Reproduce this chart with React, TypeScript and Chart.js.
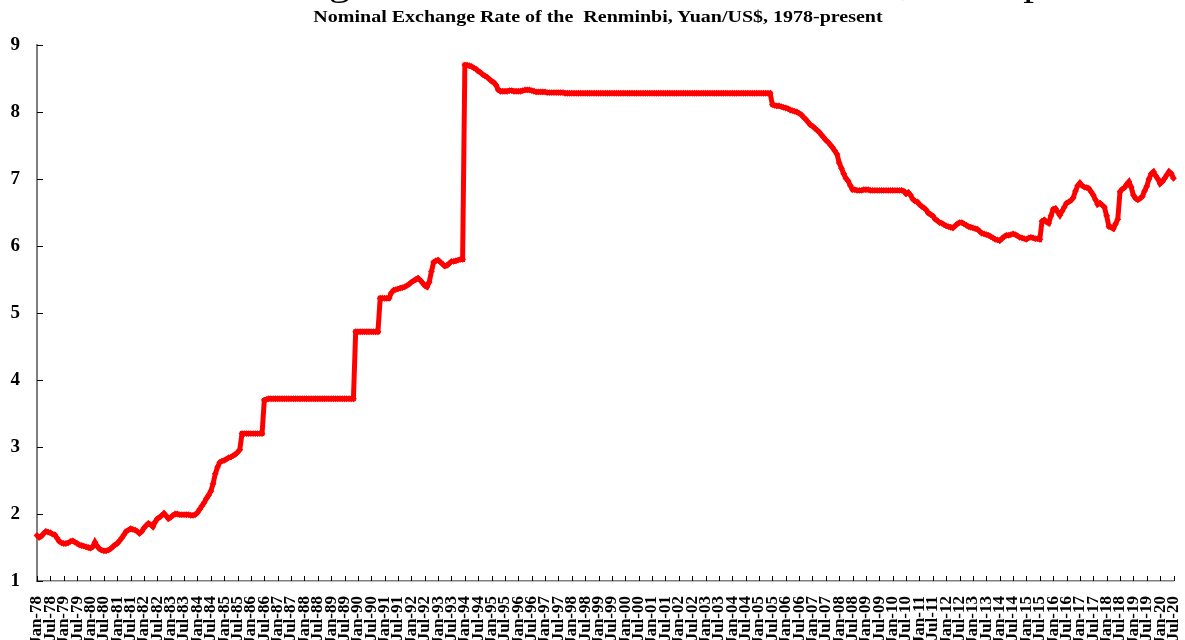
import React, { useEffect, useRef } from 'react';
import { Chart, registerables } from 'chart.js';

Chart.register(...registerables);

const FONT = '"Liberation Serif", "Times New Roman", Times, serif';

const bigTitle = 'Nominal Exchange Rate of the Chinese Renminbi, 1978-present';
const subtitle = 'Nominal Exchange Rate of the\u00a0 Renminbi, Yuan/US$, 1978-present';

const monthNames = ['Jan', 'Feb', 'Mar', 'Apr', 'May', 'Jun', 'Jul', 'Aug', 'Sep', 'Oct', 'Nov', 'Dec'];
const startYear = 1978;
const labelEvery = 6;

const yMin = 1;
const yMax = 9;
const yStep = 1;

// Monthly Yuan per US$ (Jan-78 ... Jul-20)
const rates1978_1985 = [
  1.68, 1.65, 1.67, 1.71, 1.74, 1.73, 1.72, 1.70, 1.69, 1.64, 1.59, 1.57, // 1978
  1.56, 1.56, 1.57, 1.59, 1.60, 1.58, 1.56, 1.54, 1.53, 1.52, 1.51, 1.50, // 1979
  1.49, 1.51, 1.58, 1.52, 1.48, 1.46, 1.45, 1.45, 1.46, 1.48, 1.51, 1.54, // 1980
  1.56, 1.60, 1.64, 1.69, 1.74, 1.76, 1.78, 1.77, 1.76, 1.74, 1.71, 1.74, // 1981
  1.79, 1.83, 1.86, 1.84, 1.81, 1.88, 1.93, 1.95, 1.98, 2.01, 1.97, 1.93, // 1982
  1.95, 1.98, 2.00, 2.00, 1.99, 1.99, 1.99, 1.99, 1.99, 1.98, 1.98, 1.99, // 1983
  2.02, 2.07, 2.12, 2.17, 2.23, 2.28, 2.34, 2.45, 2.60, 2.70, 2.77, 2.79, // 1984
  2.80, 2.82, 2.84, 2.85, 2.87, 2.89, 2.92, 2.96, 3.20, 3.20, 3.20, 3.20, // 1985
];

const rates1986_1993 = [
  3.20, 3.20, 3.20, 3.20, 3.20, 3.20, 3.70, 3.71, 3.72, 3.72, 3.72, 3.72, // 1986
  3.72, 3.72, 3.72, 3.72, 3.72, 3.72, 3.72, 3.72, 3.72, 3.72, 3.72, 3.72, // 1987
  3.72, 3.72, 3.72, 3.72, 3.72, 3.72, 3.72, 3.72, 3.72, 3.72, 3.72, 3.72, // 1988
  3.72, 3.72, 3.72, 3.72, 3.72, 3.72, 3.72, 3.72, 3.72, 3.72, 3.72, 4.72, // 1989
  4.72, 4.72, 4.72, 4.72, 4.72, 4.72, 4.72, 4.72, 4.72, 4.72, 5.22, 5.22, // 1990
  5.22, 5.22, 5.22, 5.30, 5.34, 5.35, 5.36, 5.37, 5.38, 5.39, 5.41, 5.43, // 1991
  5.46, 5.48, 5.50, 5.52, 5.49, 5.45, 5.41, 5.39, 5.46, 5.62, 5.76, 5.78, // 1992
  5.79, 5.76, 5.73, 5.70, 5.71, 5.74, 5.77, 5.77, 5.78, 5.79, 5.80, 5.80, // 1993
];

const rates1994_2004 = [
  8.70, 8.70, 8.69, 8.68, 8.66, 8.64, 8.61, 8.59, 8.56, 8.54, 8.52, 8.49, // 1994
  8.46, 8.44, 8.40, 8.33, 8.31, 8.31, 8.31, 8.31, 8.32, 8.32, 8.31, 8.31, // 1995
  8.31, 8.31, 8.32, 8.33, 8.33, 8.33, 8.32, 8.31, 8.30, 8.30, 8.30, 8.30, // 1996
  8.30, 8.29, 8.29, 8.29, 8.29, 8.29, 8.29, 8.29, 8.29, 8.28, 8.28, 8.28, // 1997
  8.28, 8.28, 8.28, 8.28, 8.28, 8.28, 8.28, 8.28, 8.28, 8.28, 8.28, 8.28, // 1998
  8.28, 8.28, 8.28, 8.28, 8.28, 8.28, 8.28, 8.28, 8.28, 8.28, 8.28, 8.28, // 1999
  8.28, 8.28, 8.28, 8.28, 8.28, 8.28, 8.28, 8.28, 8.28, 8.28, 8.28, 8.28, // 2000
  8.28, 8.28, 8.28, 8.28, 8.28, 8.28, 8.28, 8.28, 8.28, 8.28, 8.28, 8.28, // 2001
  8.28, 8.28, 8.28, 8.28, 8.28, 8.28, 8.28, 8.28, 8.28, 8.28, 8.28, 8.28, // 2002
  8.28, 8.28, 8.28, 8.28, 8.28, 8.28, 8.28, 8.28, 8.28, 8.28, 8.28, 8.28, // 2003
  8.28, 8.28, 8.28, 8.28, 8.28, 8.28, 8.28, 8.28, 8.28, 8.28, 8.28, 8.28, // 2004
];

const rates2005_2012 = [
  8.28, 8.28, 8.28, 8.28, 8.28, 8.28, 8.11, 8.10, 8.09, 8.09, 8.08, 8.07, // 2005
  8.06, 8.05, 8.03, 8.02, 8.01, 8.00, 7.98, 7.96, 7.92, 7.89, 7.85, 7.81, // 2006
  7.79, 7.76, 7.73, 7.70, 7.66, 7.62, 7.58, 7.55, 7.51, 7.47, 7.42, 7.37, // 2007
  7.24, 7.16, 7.08, 7.01, 6.97, 6.90, 6.84, 6.84, 6.83, 6.83, 6.83, 6.84, // 2008
  6.84, 6.84, 6.83, 6.83, 6.83, 6.83, 6.83, 6.83, 6.83, 6.83, 6.83, 6.83, // 2009
  6.83, 6.83, 6.83, 6.83, 6.83, 6.82, 6.78, 6.80, 6.76, 6.70, 6.67, 6.66, // 2010
  6.62, 6.59, 6.57, 6.54, 6.49, 6.47, 6.45, 6.40, 6.38, 6.35, 6.34, 6.32, // 2011
  6.30, 6.29, 6.28, 6.27, 6.30, 6.33, 6.35, 6.35, 6.33, 6.31, 6.29, 6.28, // 2012
];

const rates2013_2020 = [
  6.27, 6.26, 6.25, 6.22, 6.19, 6.18, 6.17, 6.16, 6.14, 6.12, 6.10, 6.09, // 2013
  6.08, 6.11, 6.14, 6.16, 6.16, 6.17, 6.18, 6.17, 6.15, 6.13, 6.12, 6.11, // 2014
  6.10, 6.12, 6.13, 6.12, 6.11, 6.11, 6.10, 6.37, 6.39, 6.36, 6.34, 6.45, // 2015
  6.55, 6.56, 6.51, 6.46, 6.52, 6.58, 6.64, 6.66, 6.68, 6.72, 6.82, 6.90, // 2016
  6.94, 6.90, 6.88, 6.87, 6.86, 6.81, 6.76, 6.69, 6.62, 6.64, 6.61, 6.58, // 2017
  6.45, 6.29, 6.28, 6.26, 6.33, 6.40, 6.81, 6.85, 6.87, 6.92, 6.96, 6.88, // 2018
  6.76, 6.71, 6.69, 6.71, 6.74, 6.82, 6.89, 7.00, 7.08, 7.11, 7.05, 7.00, // 2019
  6.93, 6.96, 7.01, 7.06, 7.11, 7.08, 7.01, // 2020
];

const rates = [
  ...rates1978_1985,
  ...rates1986_1993,
  ...rates1994_2004,
  ...rates2005_2012,
  ...rates2013_2020,
];

const labels = rates.map((_, i) => {
  const y = startYear + Math.floor(i / 12);
  return `${monthNames[i % 12]}-${String(y % 100).padStart(2, '0')}`;
});

const innerTicks = {
  id: 'innerTicks',
  beforeDatasetsDraw(chart: any) {
    const { ctx, chartArea, scales } = chart;
    const x = scales.x;
    const y = scales.y;
    ctx.save();
    ctx.strokeStyle = '#000000';
    ctx.lineWidth = 1;
    ctx.beginPath();
    for (let v = yMin; v <= yMax; v += yStep) {
      const py = Math.round(y.getPixelForValue(v)) + 0.5;
      ctx.moveTo(chartArea.left, py);
      ctx.lineTo(chartArea.left + 6, py);
    }
    for (let i = 0; i < labels.length; i += labelEvery) {
      const px = Math.round(x.getPixelForValue(i)) + 0.5;
      ctx.moveTo(px, chartArea.bottom);
      ctx.lineTo(px, chartArea.bottom - 5);
    }
    ctx.stroke();
    ctx.restore();
  },
};

export default function App() {
  const ref = useRef<HTMLCanvasElement>(null);

  useEffect(() => {
    const canvas = ref.current;
    if (!canvas) return;
    const chart = new Chart(canvas, {
      type: 'line',
      data: {
        labels,
        datasets: [
          {
            data: rates,
            borderColor: '#ff0000',
            backgroundColor: '#ff0000',
            borderWidth: 5,
            pointRadius: 3.4,
            pointStyle: 'rectRot',
            pointBorderWidth: 0,
            pointBackgroundColor: '#ff0000',
            pointHoverRadius: 0,
            tension: 0,
          },
        ],
      },
      options: {
        responsive: false,
        animation: false,
        devicePixelRatio: 1,
        events: [],
        layout: { padding: { top: 45, right: 11.5, left: 0, bottom: 0 } },
        plugins: {
          legend: { display: false },
          tooltip: { enabled: false },
          title: { display: false },
        },
        scales: {
          x: {
            type: 'category',
            offset: false,
            grid: { display: false },
            border: { display: true, color: '#7f7f7f', width: 1.5 },
            ticks: {
              autoSkip: false,
              maxRotation: 90,
              minRotation: 90,
              padding: 7,
              color: '#000000',
              font: { family: FONT, size: 17, weight: 'bold' },
              callback: (_v: any, i: number) => (i % labelEvery === 0 ? labels[i] : ''),
            },
            afterFit: (s: any) => {
              s.height = 59;
              s.paddingLeft = 0;
              s.paddingRight = 0;
            },
          },
          y: {
            min: yMin,
            max: yMax,
            grid: { display: false },
            border: { display: true, color: '#7f7f7f', width: 2 },
            ticks: {
              stepSize: yStep,
              padding: 9,
              color: '#000000',
              font: { family: FONT, size: 19, weight: 'bold' },
            },
            afterFit: (s: any) => {
              s.width = 37;
              s.paddingTop = 0;
              s.paddingBottom = 0;
            },
          },
        },
      },
      plugins: [innerTicks],
    } as any);
    return () => chart.destroy();
  }, []);

  return (
    <div
      style={{
        position: 'absolute',
        left: 0,
        top: 0,
        width: 1185,
        height: 640,
        overflow: 'hidden',
        background: '#ffffff',
      }}
    >
      <canvas
        ref={ref}
        width={1185}
        height={640}
        style={{ position: 'absolute', left: 0, top: 0, width: 1185, height: 640 }}
      />
      <div
        style={{
          position: 'absolute',
          left: 0,
          top: -35,
          width: 1185,
          textAlign: 'center',
          fontFamily: FONT,
          fontSize: 36,
          lineHeight: '36px',
          whiteSpace: 'nowrap',
          transform: 'scaleX(1.2)',
          transformOrigin: '592px 0',
          color: '#000',
        }}
      >
        {bigTitle}
      </div>
      <div
        style={{
          position: 'absolute',
          left: 0,
          top: 9,
          width: 1196,
          textAlign: 'center',
          fontFamily: FONT,
          fontWeight: 'bold',
          fontSize: 16,
          lineHeight: '16px',
          whiteSpace: 'nowrap',
          transform: 'scaleX(1.25)',
          transformOrigin: '598px 0',
          color: '#000',
        }}
      >
        {subtitle}
      </div>
    </div>
  );
}
